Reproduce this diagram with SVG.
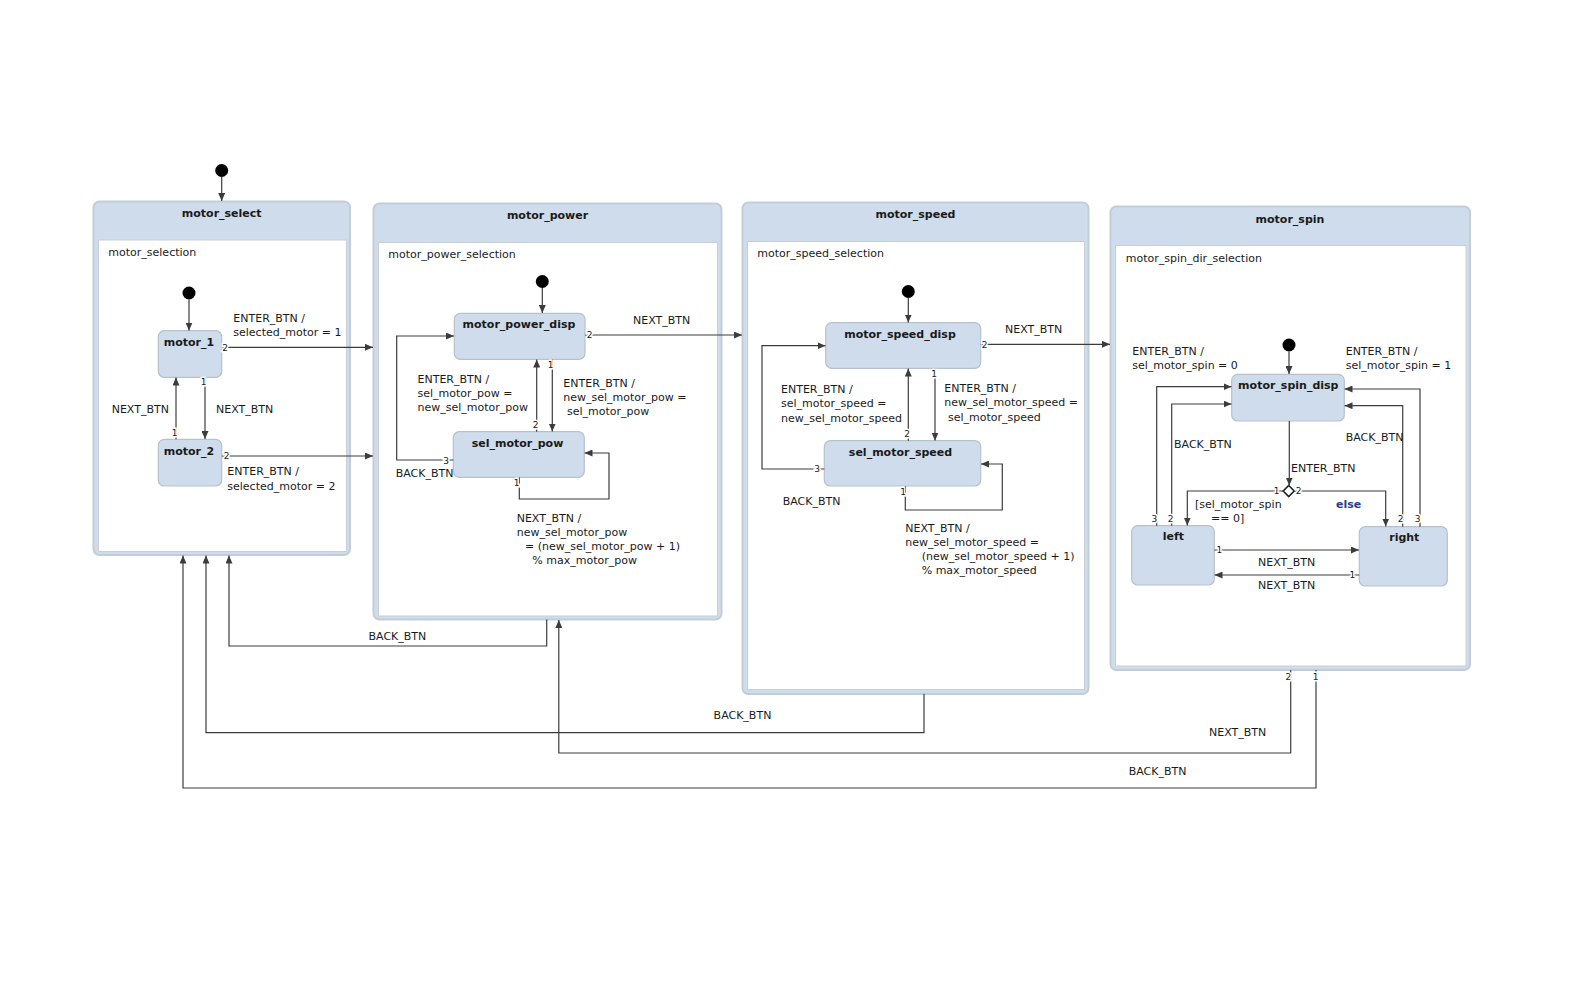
<svg xmlns="http://www.w3.org/2000/svg" width="1576" height="985" viewBox="0 0 1576 985">
<style>
text{font-family:"DejaVu Sans","Verdana",sans-serif;font-size:11px;fill:#1a1a1a}
.t{font-weight:bold;text-anchor:middle}
.p{font-size:9px;text-anchor:middle;stroke:#fff;stroke-width:3;paint-order:stroke}
.c{text-anchor:middle}
.else{font-weight:bold;fill:#2b3d8c}
.outer{fill:#cfdcec;stroke:#c2cdda;stroke-width:2}
.inner{fill:#fff;stroke:#c9ced4;stroke-width:1}
.st{fill:#cfdcec;stroke:#b7c1cc;stroke-width:1.2}
.ar{fill:none;stroke:#3c3c3c;stroke-width:1.2;marker-end:url(#ah)}
.dot{fill:#000}
</style>
<defs>
<marker id="ah" viewBox="0 0 8 7" refX="8" refY="3.5" markerWidth="8" markerHeight="7" markerUnits="userSpaceOnUse" orient="auto"><path d="M0,0 L8,3.5 L0,7 z" fill="#3c3c3c"/></marker>
</defs>
<rect width="1576" height="985" fill="#fff"/>

<!-- composite states -->
<g id="motor_select">
<rect class="outer" x="93.5" y="201.5" width="256.5" height="353.5" rx="6"/>
<rect class="inner" x="98.5" y="240" width="248" height="311.5"/>
<text class="t" x="221.7" y="217">motor_select</text>
<text x="108.3" y="255.5">motor_selection</text>
</g>
<g id="motor_power">
<rect class="outer" x="373.5" y="203.5" width="348" height="416" rx="6"/>
<rect class="inner" x="378.5" y="242.5" width="339" height="373.5"/>
<text class="t" x="547.5" y="219">motor_power</text>
<text x="388.3" y="257.8">motor_power_selection</text>
</g>
<g id="motor_speed">
<rect class="outer" x="742.5" y="202.5" width="346" height="491.5" rx="6"/>
<rect class="inner" x="747.5" y="241.5" width="337" height="448"/>
<text class="t" x="915.5" y="218">motor_speed</text>
<text x="757.3" y="257">motor_speed_selection</text>
</g>
<g id="motor_spin">
<rect class="outer" x="1110.5" y="206.5" width="359.5" height="463.5" rx="6"/>
<rect class="inner" x="1115.5" y="245.5" width="350.5" height="420.5"/>
<text class="t" x="1290" y="222.5">motor_spin</text>
<text x="1125.7" y="262">motor_spin_dir_selection</text>
</g>

<!-- initial pseudostates -->
<g id="init_top"><circle class="dot" cx="221.7" cy="170.5" r="6.5"/></g>
<g id="init_select"><circle class="dot" cx="189" cy="293" r="6.5"/></g>
<g id="init_power"><circle class="dot" cx="542.3" cy="281.5" r="6.5"/></g>
<g id="init_speed"><circle class="dot" cx="908.3" cy="291.5" r="6.5"/></g>
<g id="init_spin"><circle class="dot" cx="1289" cy="345" r="6.5"/></g>

<!-- simple states -->
<g id="motor_1"><rect class="st" x="158.3" y="330.7" width="63.4" height="46.6" rx="6"/><text class="t" x="189" y="345.7">motor_1</text></g>
<g id="motor_2"><rect class="st" x="158.3" y="439.3" width="63.4" height="46.7" rx="6"/><text class="t" x="189" y="455">motor_2</text></g>
<g id="motor_power_disp"><rect class="st" x="454.3" y="313.3" width="130.7" height="46" rx="6"/><text class="t" x="519" y="328.3">motor_power_disp</text></g>
<g id="sel_motor_pow"><rect class="st" x="453.3" y="431.7" width="131" height="45.6" rx="6"/><text class="t" x="517.5" y="446.7">sel_motor_pow</text></g>
<g id="motor_speed_disp"><rect class="st" x="825.7" y="322.7" width="155" height="45.6" rx="6"/><text class="t" x="900" y="337.7">motor_speed_disp</text></g>
<g id="sel_motor_speed"><rect class="st" x="824.3" y="440.7" width="156.4" height="45.3" rx="6"/><text class="t" x="900.5" y="455.7">sel_motor_speed</text></g>
<g id="motor_spin_disp"><rect class="st" x="1231.7" y="374.3" width="112.6" height="46.7" rx="6"/><text class="t" x="1288.3" y="389">motor_spin_disp</text></g>
<g id="choice"><path d="M1288.7,485.5 L1294.2,491 L1288.7,496.5 L1283.2,491 z" fill="#fff" stroke="#222" stroke-width="1.6"/></g>
<g id="left"><rect class="st" x="1131.7" y="525.7" width="82.6" height="59.3" rx="6"/><text class="t" x="1173.3" y="540">left</text></g>
<g id="right"><rect class="st" x="1359.3" y="526.7" width="88" height="59.3" rx="6"/><text class="t" x="1404.3" y="541">right</text></g>

<!-- connectors -->
<g id="connectors">
<path class="ar" d="M221.7,177 V201"/>
<path class="ar" d="M189,299.5 V330.5"/>
<path class="ar" d="M221.7,347.3 H373"/>
<path class="ar" d="M205,377.3 V439"/>
<path class="ar" d="M176,439.3 V377.5"/>
<path class="ar" d="M221.7,456 H373"/>
<path class="ar" d="M542.3,288 V313"/>
<path class="ar" d="M585,335 H742"/>
<path class="ar" d="M552.3,359.3 V431.5"/>
<path class="ar" d="M536.7,431.7 V359.5"/>
<path class="ar" d="M453.3,460 H396.7 V336 H454"/>
<path class="ar" d="M519.3,477.3 V499 H609 V453 H584.5"/>
<path class="ar" d="M908.3,298 V322.5"/>
<path class="ar" d="M980.7,344.3 H1110"/>
<path class="ar" d="M935,368.3 V440.5"/>
<path class="ar" d="M908.3,440.7 V368.5"/>
<path class="ar" d="M824.3,469 H762 V345.7 H825.5"/>
<path class="ar" d="M905.3,486 V510 H1002.3 V464 H981"/>
<path class="ar" d="M1289,351.5 V374"/>
<path class="ar" d="M1289.3,421 V485.5"/>
<path class="ar" d="M1283.2,491 H1187.3 V525.5"/>
<path class="ar" d="M1294.2,491 H1385.7 V526.5"/>
<path class="ar" d="M1171.7,525.7 V404 H1231.5"/>
<path class="ar" d="M1156.7,525.7 V386.7 H1231.5"/>
<path class="ar" d="M1402.7,526.7 V405.7 H1344.5"/>
<path class="ar" d="M1420,526.7 V389 H1344.5"/>
<path class="ar" d="M1214.3,550 H1359"/>
<path class="ar" d="M1359.3,575 H1214.5"/>
<path class="ar" d="M546.7,619.5 V646 H229 V555.5"/>
<path class="ar" d="M924,694 V732.7 H206 V555.5"/>
<path class="ar" d="M1290.7,670 V753 H558.8 V620"/>
<path class="ar" d="M1316,670 V788 H183 V555.5"/>
</g>

<!-- connector labels -->
<g id="labels">
<text x="233.3" y="321.7">ENTER_BTN /</text>
<text x="233.3" y="336">selected_motor = 1</text>
<text x="111.7" y="413">NEXT_BTN</text>
<text x="216" y="413">NEXT_BTN</text>
<text x="227.3" y="475">ENTER_BTN /</text>
<text x="227.3" y="489.5">selected_motor = 2</text>
<text x="633" y="324">NEXT_BTN</text>
<text x="417.5" y="382.7">ENTER_BTN /</text>
<text x="417.5" y="396.7">sel_motor_pow =</text>
<text x="417.5" y="411.4">new_sel_motor_pow</text>
<text x="563.3" y="386.5">ENTER_BTN /</text>
<text x="563.3" y="400.8">new_sel_motor_pow =</text>
<text x="567" y="414.8">sel_motor_pow</text>
<text x="395.7" y="477">BACK_BTN</text>
<text x="516.7" y="521.5">NEXT_BTN /</text>
<text x="516.7" y="535.8">new_sel_motor_pow</text>
<text x="525" y="550">= (new_sel_motor_pow + 1)</text>
<text x="532.3" y="564.3">% max_motor_pow</text>
<text x="1005" y="333.3">NEXT_BTN</text>
<text x="781" y="392.5">ENTER_BTN /</text>
<text x="781" y="406.7">sel_motor_speed =</text>
<text x="781" y="421.5">new_sel_motor_speed</text>
<text x="944.3" y="391.5">ENTER_BTN /</text>
<text x="944.3" y="405.7">new_sel_motor_speed =</text>
<text x="948" y="420.5">sel_motor_speed</text>
<text x="782.7" y="505">BACK_BTN</text>
<text x="905.3" y="531.7">NEXT_BTN /</text>
<text x="905.3" y="545.7">new_sel_motor_speed =</text>
<text x="921.7" y="560">(new_sel_motor_speed + 1)</text>
<text x="921.7" y="574.3">% max_motor_speed</text>
<text x="1132.3" y="355">ENTER_BTN /</text>
<text x="1132.3" y="369">sel_motor_spin = 0</text>
<text x="1345.7" y="355">ENTER_BTN /</text>
<text x="1345.7" y="369">sel_motor_spin = 1</text>
<text x="1174" y="448.3">BACK_BTN</text>
<text x="1345.7" y="441">BACK_BTN</text>
<text x="1291" y="471.7">ENTER_BTN</text>
<text x="1195" y="508.3">[sel_motor_spin</text>
<text x="1211" y="522.3">== 0]</text>
<text class="else" x="1336" y="508.3">else</text>
<text class="c" x="1286.7" y="566">NEXT_BTN</text>
<text class="c" x="1286.7" y="589">NEXT_BTN</text>
<text x="368.5" y="640">BACK_BTN</text>
<text x="713.6" y="719">BACK_BTN</text>
<text x="1209" y="736">NEXT_BTN</text>
<text x="1128.7" y="774.5">BACK_BTN</text>
</g>

<!-- port numbers -->
<g id="ports">
<text class="p" x="225" y="350.5">2</text>
<text class="p" x="203.5" y="385">1</text>
<text class="p" x="174.5" y="436">1</text>
<text class="p" x="226.5" y="459">2</text>
<text class="p" x="589.5" y="338">2</text>
<text class="p" x="550.5" y="367.5">1</text>
<text class="p" x="535.5" y="427.5">2</text>
<text class="p" x="446" y="463.5">3</text>
<text class="p" x="516.5" y="485.5">1</text>
<text class="p" x="984.5" y="347.5">2</text>
<text class="p" x="934" y="376.5">1</text>
<text class="p" x="907" y="437">2</text>
<text class="p" x="817" y="472">3</text>
<text class="p" x="903" y="495">1</text>
<text class="p" x="1276.5" y="494">1</text>
<text class="p" x="1298.5" y="494">2</text>
<text class="p" x="1154.3" y="522">3</text>
<text class="p" x="1170.7" y="522">2</text>
<text class="p" x="1400.7" y="522">2</text>
<text class="p" x="1417.7" y="522">3</text>
<text class="p" x="1219.3" y="553">1</text>
<text class="p" x="1352.3" y="578">1</text>
<text class="p" x="1288.3" y="679.5">2</text>
<text class="p" x="1315.7" y="679.5">1</text>
</g>
</svg>
